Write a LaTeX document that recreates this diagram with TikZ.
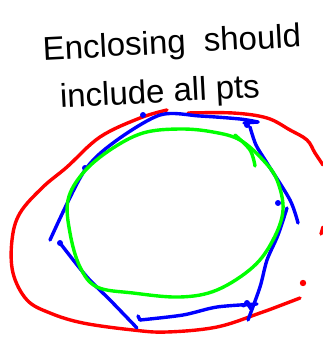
\documentclass[tikz,border=0pt]{standalone}
\usepackage{fontspec}
\setmainfont{Liberation Sans}
\begin{document}
\begin{tikzpicture}[x=1pt,y=-1pt,
  pen/.style={line width=3.4pt,line cap=round,line join=round},
  hand/.style={font=\fontsize{33}{36}\selectfont,inner sep=0pt}]
\useasboundingbox (0,0) rectangle (323,342);
% text
\node[hand,rotate=3] (t1) at (172,45) {Enclosing\ \ should};
\node[hand,rotate=3] (t2) at (160,94) {include all pts};
% red
\draw[pen,red] plot[smooth,tension=0.6] coordinates {(167,110) (140,118) (100,137) (67,167) (43,187) (20,213) (12,240) (13,273) (27,300) (50,313) (83,323) (133,330) (167,332) (217,327) (260,313) (287,303) (300,298)};
\draw[pen,red] plot[smooth,tension=0.6] coordinates {(188,113) (233,113) (267,118) (290,130) (307,140) (315,153) (323,165)};
\draw[pen,red] (321,234) -- (323,227);
\fill[red] (303,283) circle (3.2pt);
% blue
\draw[pen,blue] plot[smooth,tension=0.5] coordinates {(50,240) (83,173) (113,143) (160,115) (200,116) (240,119) (258,122)};
\draw[pen,blue] (258,122) -- (244,123);
\draw[pen,blue] plot[smooth,tension=0.5] coordinates {(250,127) (256,145) (267,163) (290,200) (298,223)};
\draw[pen,blue] plot[smooth,tension=0.5] coordinates {(287,208) (278,235) (267,260) (260,287) (248,320)};
\draw[pen,blue] plot[smooth,tension=0.5] coordinates {(257,304) (217,307) (183,315) (140,320)};
\draw[pen,blue] (140,320) -- (138,316);
\draw[pen,blue] plot[smooth,tension=0.5] coordinates {(60,243) (87,277) (110,300) (137,328)};
\draw[pen,blue] (247,303) -- (251,309) (243,306) -- (248,303);
\fill[blue] (143,115) circle (3pt) (85,168) circle (3pt) (247,125) circle (3pt) (278,203) circle (3pt) (60,243) circle (3pt) (247,303) circle (3pt);
% green
\draw[pen,green] plot[smooth cycle,tension=0.6] coordinates {(143,133) (110,150) (83,173) (68,200) (70,233) (80,267) (97,287) (133,293) (180,297) (217,290) (253,267) (273,240) (283,210) (277,180) (263,160) (240,140) (213,132) (180,129)};
\draw[pen,green] plot[smooth,tension=0.6] coordinates {(235,135) (250,150) (255,166)};
\end{tikzpicture}
\end{document}
